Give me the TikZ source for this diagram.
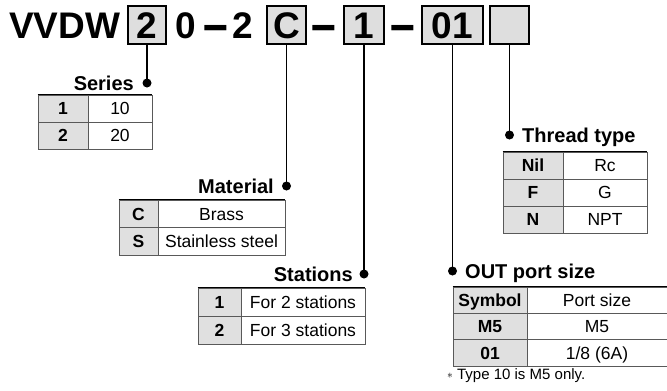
\documentclass[tikz,border=0pt]{standalone}
\usepackage{fontspec}
\setmainfont{Liberation Sans}
\definecolor{boxgray}{RGB}{222,222,222}
\definecolor{cellgray}{RGB}{224,224,224}
\newcommand{\bigdash}{\raisebox{-4.5pt}{\scalebox{1.2}[1.45]{–}}}
\begin{document}
\begin{tikzpicture}[x=1pt,y=-1pt,
  hbox/.style={draw=black,line width=1.5pt,fill=boxgray,minimum height=38pt,inner sep=0pt,text height=26.5pt,text depth=0pt,font=\fontsize{37}{37}\bfseries\selectfont},
  htxt/.style={inner sep=0pt,anchor=base west,font=\fontsize{37}{37}\bfseries\selectfont},
  conn/.style={line width=1.5pt},
  jdot/.style={circle,fill=black,inner sep=0pt,minimum size=9pt},
  lab/.style={inner sep=0pt,font=\fontsize{20}{20}\bfseries\selectfont},
  cellK/.style={draw=black!65,line width=0.9pt,fill=cellgray,inner sep=0pt,text height=12.5pt,text depth=0pt,font=\fontsize{17.5}{18}\bfseries\selectfont},
  cellV/.style={draw=black!65,line width=0.9pt,fill=white,inner sep=0pt,text height=12.5pt,text depth=0pt,font=\fontsize{17.5}{18}\selectfont},
  topline/.style={line width=1.8pt,black}
]
\useasboundingbox (0,0) rectangle (667,391);

% header
\node[htxt] (vvdw) at (9,38) {VVDW};
\node[hbox,minimum width=38pt] (b1) at (147,25) {2};
\node[htxt] (t0) at (175.5,38) {0};
\node[htxt,anchor=base] (m1) at (216,38) {\bigdash};
\node[htxt] (t2) at (232,38) {2};
\node[hbox,minimum width=39pt] (b2) at (286.5,25) {C};
\node[htxt,anchor=base] (m2) at (324,38) {\bigdash};
\node[hbox,minimum width=40pt] (b3) at (364,25) {1};
\node[htxt,anchor=base] (m3) at (402.5,38) {\bigdash};
\node[hbox,minimum width=61pt] (b4) at (452.5,25) {01};
\node[hbox,minimum width=39pt] (b5) at (509.5,25) {};

% junction dots
\node[jdot] (d1) at (147,83) {};
\node[jdot] (d2) at (286.5,186) {};
\node[jdot] (d3) at (364,274) {};
\node[jdot] (d4) at (452.5,271) {};
\node[jdot] (d5) at (509.5,135) {};

\draw[conn] (b1.south) -- (d1.center);
\draw[conn] (b2.south) -- (d2.center);
\draw[conn] (b3.south) -- (d3.center);
\draw[conn] (b4.south) -- (d4.center);
\draw[conn] (b5.south) -- (d5.center);

% labels
\node[lab,anchor=base east] (lser) at (134,90) {Series};
\node[lab,anchor=base east] (lmat) at (274,193) {Material};
\node[lab,anchor=base east] (lsta) at (353,281) {Stations};
\node[lab,anchor=base west] (lthr) at (522,142) {Thread type};
\node[lab,anchor=base west] (lout) at (465,278) {OUT port size};

% Series table
\node[cellK,minimum width=50pt,minimum height=27pt] (s11) at (63,108.5) {1};
\node[cellV,minimum width=64pt,minimum height=27pt] (s12) at (120,108.5) {10};
\node[cellK,minimum width=50pt,minimum height=27pt] (s21) at (63,135.5) {2};
\node[cellV,minimum width=64pt,minimum height=27pt] (s22) at (120,135.5) {20};
\draw[topline] (s11.north west) -- (s12.north east);

% Material table
\node[cellK,minimum width=39pt,minimum height=27.5pt] (m11) at (138.5,213.75) {C};
\node[cellV,minimum width=127pt,minimum height=27.5pt] (m12) at (221.5,213.75) {Brass};
\node[cellK,minimum width=39pt,minimum height=27.5pt] (m21) at (138.5,241.25) {S};
\node[cellV,minimum width=127pt,minimum height=27.5pt] (m22) at (221.5,241.25) {Stainless steel};
\draw[topline] (m11.north west) -- (m12.north east);

% Stations table
\node[cellK,minimum width=43pt,minimum height=28pt] (st11) at (219.5,302) {1};
\node[cellV,minimum width=124pt,minimum height=28pt] (st12) at (303,302) {For 2 stations};
\node[cellK,minimum width=43pt,minimum height=28pt] (st21) at (219.5,330) {2};
\node[cellV,minimum width=124pt,minimum height=28pt] (st22) at (303,330) {For 3 stations};
\draw[topline] (st11.north west) -- (st12.north east);

% Thread type table
\node[cellK,minimum width=60pt,minimum height=27pt] (th11) at (533,165.5) {Nil};
\node[cellV,minimum width=84pt,minimum height=27pt] (th12) at (605,165.5) {Rc};
\node[cellK,minimum width=60pt,minimum height=27pt] (th21) at (533,192.5) {F};
\node[cellV,minimum width=84pt,minimum height=27pt] (th22) at (605,192.5) {G};
\node[cellK,minimum width=60pt,minimum height=27pt] (th31) at (533,219.5) {N};
\node[cellV,minimum width=84pt,minimum height=27pt] (th32) at (605,219.5) {NPT};
\draw[topline] (th11.north west) -- (th12.north east);

% OUT port size table
\node[cellK,minimum width=74pt,minimum height=26.33pt] (o11) at (490,300.17) {Symbol};
\node[cellV,minimum width=140pt,minimum height=26.33pt] (o12) at (597,300.17) {Port size};
\node[cellK,minimum width=74pt,minimum height=26.33pt] (o21) at (490,326.5) {M5};
\node[cellV,minimum width=140pt,minimum height=26.33pt] (o22) at (597,326.5) {M5};
\node[cellK,minimum width=74pt,minimum height=26.33pt] (o31) at (490,352.83) {01};
\node[cellV,minimum width=140pt,minimum height=26.33pt] (o32) at (597,352.83) {1/8 (6A)};
\draw[topline] (o11.north west) -- (o12.north east);

% footnote
\node[inner sep=0pt,anchor=base west,font=\fontsize{15}{16}\selectfont] (note) at (447,379) {\raisebox{0.5pt}{\scalebox{0.8}{$\ast$}} Type 10 is M5 only.};
\end{tikzpicture}
\end{document}
